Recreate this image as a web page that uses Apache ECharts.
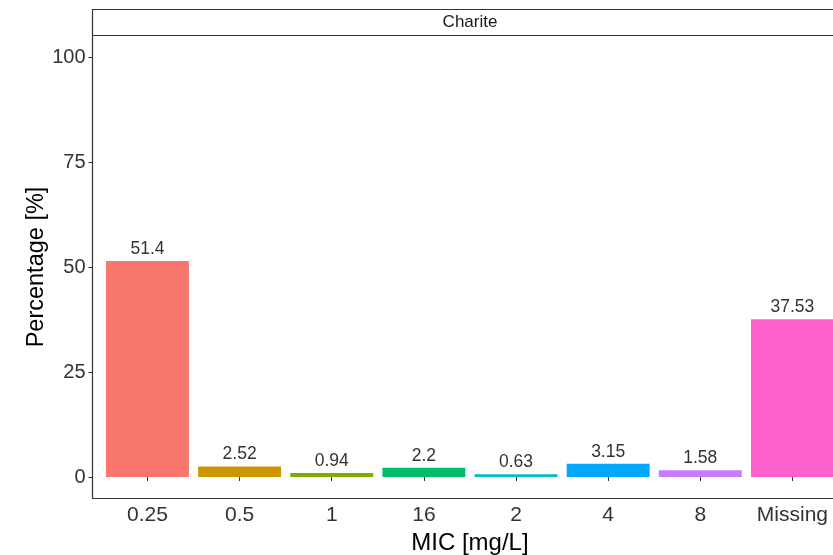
<!DOCTYPE html>
<html>
<head>
<meta charset="utf-8">
<script src="https://cdn.jsdelivr.net/npm/echarts@6/dist/echarts.min.js"></script>
<style>html,body{margin:0;padding:0;background:#fff;}#c{width:833px;height:555px;}</style>
</head>
<body>
<div id="c"></div>
<script>
var categories = ['0.25', '0.5', '1', '16', '2', '4', '8', 'Missing'];
var values = [51.4, 2.52, 0.94, 2.2, 0.63, 3.15, 1.58, 37.53];
var colors = ['#F8766D', '#CD9600', '#7CAE00', '#00BE67', '#00BFC4', '#00A9FF', '#C77CFF', '#FF61CC'];
var yTicks = [0, 25, 50, 75, 100];
var facetLabel = 'Charite';

var font = 'Liberation Sans, Arial, sans-serif';
var chart = echarts.init(document.getElementById('c'), null, {renderer: 'canvas'});
chart.setOption({
  animation: false,
  backgroundColor: '#fff',
  graphic: [
    {type: 'rect', shape: {x: 92.5, y: 9.5, width: 760, height: 26}, style: {fill: '#fff', stroke: '#333', lineWidth: 1.2}, z: 10},
    {type: 'text', style: {x: 470, y: 22.5, text: facetLabel, fill: '#1a1a1a', font: '17px ' + font, align: 'center', verticalAlign: 'middle'}, z: 11}
  ],
  grid: [
    {left: 101.4, width: 737.1, top: 57, bottom: 78, containLabel: false, outerBoundsMode: 'none'},
    {left: 92.5, right: -14, top: 36, bottom: 57, containLabel: false, outerBoundsMode: 'none'}
  ],
  xAxis: [
    {
      type: 'category', gridIndex: 0, data: categories, offset: 21,
      axisLine: {show: false},
      axisTick: {show: true, alignWithLabel: true, length: 4, lineStyle: {color: '#333', width: 1}},
      axisLabel: {color: '#333', fontSize: 21, fontFamily: font, margin: 7, interval: 0},
      name: 'MIC [mg/L]', nameLocation: 'middle', nameGap: 33, nameMoveOverlap: false,
      nameTextStyle: {color: '#000', fontSize: 24, fontFamily: font}
    },
    {
      type: 'value', gridIndex: 1, min: 0, max: 1,
      axisLine: {show: true, onZero: false, lineStyle: {color: '#333', width: 1.2}},
      axisTick: {show: false}, axisLabel: {show: false}, splitLine: {show: false}
    }
  ],
  yAxis: [
    {
      type: 'value', gridIndex: 0, min: 0, max: 100, interval: 25, offset: 8.9,
      axisLine: {show: false},
      axisTick: {show: true, length: 4, lineStyle: {color: '#333', width: 1}},
      axisLabel: {color: '#333', fontSize: 20, fontFamily: font, margin: 7,
        formatter: function (v) { return yTicks.indexOf(v) >= 0 ? String(v) : ''; }},
      splitLine: {show: false},
      name: 'Percentage [%]', nameLocation: 'middle', nameGap: 44, nameRotate: 90, nameMoveOverlap: false,
      nameTextStyle: {color: '#000', fontSize: 23.5, fontFamily: font}
    },
    {
      type: 'value', gridIndex: 1, min: 0, max: 1,
      axisLine: {show: true, onZero: false, lineStyle: {color: '#333', width: 1.2}},
      axisTick: {show: false}, axisLabel: {show: false}, splitLine: {show: false}
    }
  ],
  series: [{
    type: 'bar', xAxisIndex: 0, yAxisIndex: 0,
    barWidth: '90%',
    data: values.map(function (v, i) { return {value: v, itemStyle: {color: colors[i]}}; }),
    label: {show: true, position: 'top', distance: 3, color: '#333', fontSize: 17.5, fontFamily: font,
      formatter: function (p) { return String(p.value); }}
  }]
});
</script>
</body>
</html>
